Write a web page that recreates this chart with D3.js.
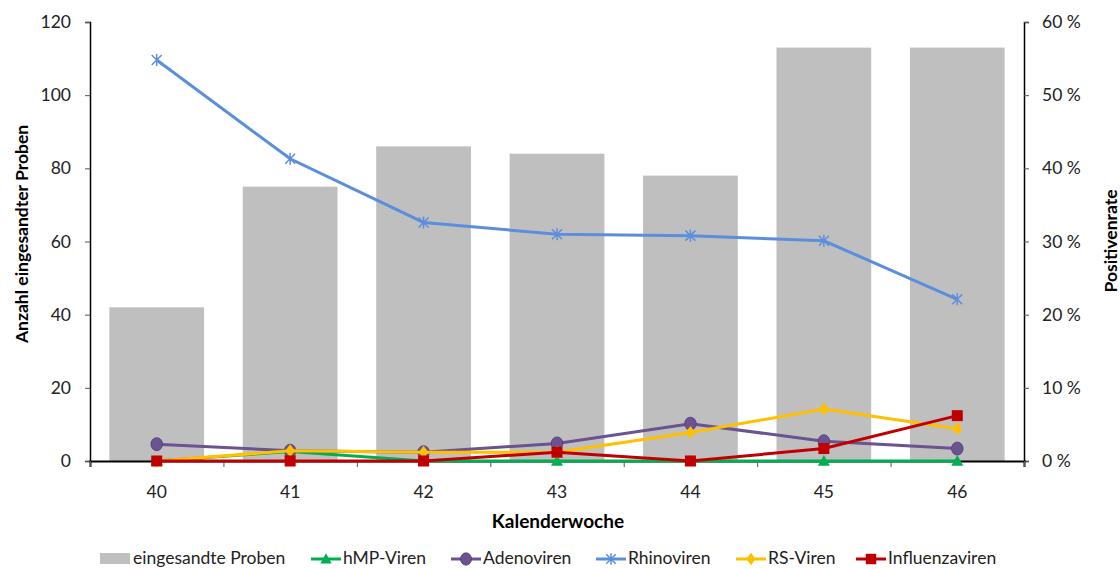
<!DOCTYPE html>
<html><head><meta charset="utf-8">
<script src="https://cdn.jsdelivr.net/npm/d3@7"></script>
<style>body{margin:0;background:#fff}svg{display:block;font-family:Lato,"Open Sans",sans-serif}</style>
</head><body><svg id="c" width="1120" height="569"></svg>
<script>
const weeks = ["40","41","42","43","44","45","46"];
const proben = [42,75,86,84,78,113,113];
const hmp = [0,1.3,0,0,0,0,0];
const adeno = [2.3,1.4,1.2,2.4,5.1,2.7,1.7];
const rhino = [54.8,41.3,32.6,31.0,30.8,30.1,22.1];
const rs = [0,1.4,1.2,1.2,3.9,7.1,4.4];
const influenza = [0,0,0,1.2,0,1.7,6.2];
const leftTicks = [0,20,40,60,80,100,120];
const rightTicks = [0,10,20,30,40,50,60];

const svg = d3.select("#c");
const L=90, R=1024, T=22, B=461;
const x = d3.scaleBand().domain(weeks).range([L,R]).paddingInner(0.29).paddingOuter(0.145);
const xc = d => x(d)+x.bandwidth()/2;
const yL = d3.scaleLinear().domain([0,120]).range([B,T]);
const yR = d3.scaleLinear().domain([0,60]).range([B,T]);

// bars
svg.append("g").selectAll("rect").data(proben).join("rect")
  .attr("x",(d,i)=>x(weeks[i])).attr("width",x.bandwidth())
  .attr("y",d=>yL(d)).attr("height",d=>B-yL(d)).attr("fill","#bfbfbf");

// axes
const fs = "17.5px";
const gl = svg.append("g").attr("transform",`translate(${L},0)`)
  .call(d3.axisLeft(yL).tickValues(leftTicks).tickSize(5).tickPadding(14));
const gr = svg.append("g").attr("transform",`translate(${R},0)`)
  .call(d3.axisRight(yR).tickValues(rightTicks).tickSize(5).tickPadding(13).tickFormat(d=>d+" %"));
const xb = d3.scaleLinear().domain([0,7]).range([L,R]);
const gx = svg.append("g").attr("transform",`translate(0,${B})`)
  .call(d3.axisBottom(xb).tickValues(d3.range(8)).tickSize(6).tickFormat(""));
[gl,gr,gx].forEach(g=>{
  g.select(".domain").attr("stroke","#000").attr("stroke-width",1.5);
  g.selectAll(".tick line").attr("stroke","#555");
  g.selectAll("text").attr("font-size",fs).attr("fill","#222").attr("font-family","Lato,sans-serif");
});
gx.select(".domain").attr("stroke-width",2);
svg.append("g").selectAll("text").data(weeks).join("text")
  .attr("x",d=>xc(d)).attr("y",498).attr("text-anchor","middle")
  .attr("font-size",fs).attr("fill","#222").text(d=>d);

// titles
svg.append("text").attr("x",558).attr("y",528).attr("text-anchor","middle")
  .attr("font-size","19px").attr("font-weight","bold").text("Kalenderwoche");
svg.append("text").attr("transform","translate(28,234) rotate(-90)").attr("text-anchor","middle")
  .attr("font-size","17.5px").attr("font-weight","bold").text("Anzahl eingesandter Proben");
svg.append("text").attr("transform","translate(1117,241) rotate(-90)").attr("text-anchor","middle")
  .attr("font-size","17.5px").attr("font-weight","bold").text("Positivenrate");

// series
const series = [
  {name:"hMP-Viren", vals:hmp, color:"#00b050", marker:"tri"},
  {name:"Adenoviren", vals:adeno, color:"#6b5290", marker:"circle"},
  {name:"Rhinoviren", vals:rhino, color:"#5b8fdc", marker:"star"},
  {name:"RS-Viren", vals:rs, color:"#ffc000", marker:"diamond"},
  {name:"Influenzaviren", vals:influenza, color:"#c00000", marker:"square"}
];
function drawMarker(g, type, cx, cy, color, scale=1){
  if(type==="tri"){
    const s=6*scale;
    g.append("path").attr("d",`M${cx},${cy-s}L${cx+s},${cy+s*0.8}L${cx-s},${cy+s*0.8}Z`).attr("fill",color);
  } else if(type==="circle"){
    g.append("ellipse").attr("cx",cx).attr("cy",cy).attr("rx",5.8*scale).attr("ry",6.5*scale).attr("fill",color).attr("stroke","#4f3b6e").attr("stroke-width",0.8);
  } else if(type==="star"){
    const s=5*scale;
    g.append("path").attr("d",`M${cx-s},${cy-s}L${cx+s},${cy+s}M${cx-s},${cy+s}L${cx+s},${cy-s}M${cx},${cy-s*1.2}L${cx},${cy+s*1.2}`)
      .attr("stroke",color).attr("stroke-width",1.5).attr("fill","none");
  } else if(type==="diamond"){
    const s=6.5*scale;
    g.append("path").attr("d",`M${cx},${cy-s}L${cx+s*0.75},${cy}L${cx},${cy+s}L${cx-s*0.75},${cy}Z`).attr("fill",color);
  } else if(type==="square"){
    const s=5.5*scale;
    g.append("rect").attr("x",cx-s).attr("y",cy-s).attr("width",2*s).attr("height",2*s).attr("fill",color);
  }
}
const line = d3.line().x((d,i)=>xc(weeks[i])).y(d=>yR(d));
series.forEach(s=>{
  const g = svg.append("g");
  g.append("path").datum(s.vals).attr("d",line).attr("fill","none").attr("stroke",s.color).attr("stroke-width",3);
  s.vals.forEach((v,i)=>drawMarker(g,s.marker,xc(weeks[i]),yR(v),s.color));
});

// legend
const lg = svg.append("g").attr("font-size","17.5px").attr("fill","#222");
lg.append("rect").attr("x",100).attr("y",553).attr("width",30).attr("height",11).attr("fill","#bfbfbf");
lg.append("text").attr("x",133).attr("y",564).text("eingesandte Proben");
const lx = [311,451,596,736,856];
series.forEach((s,i)=>{
  const x0=lx[i];
  lg.append("line").attr("x1",x0).attr("x2",x0+30).attr("y1",559).attr("y2",559).attr("stroke",s.color).attr("stroke-width",3);
  drawMarker(lg,s.marker,x0+15,559,s.color,0.95);
  lg.append("text").attr("x",x0+32).attr("y",564).text(s.name);
});
</script></body></html>
